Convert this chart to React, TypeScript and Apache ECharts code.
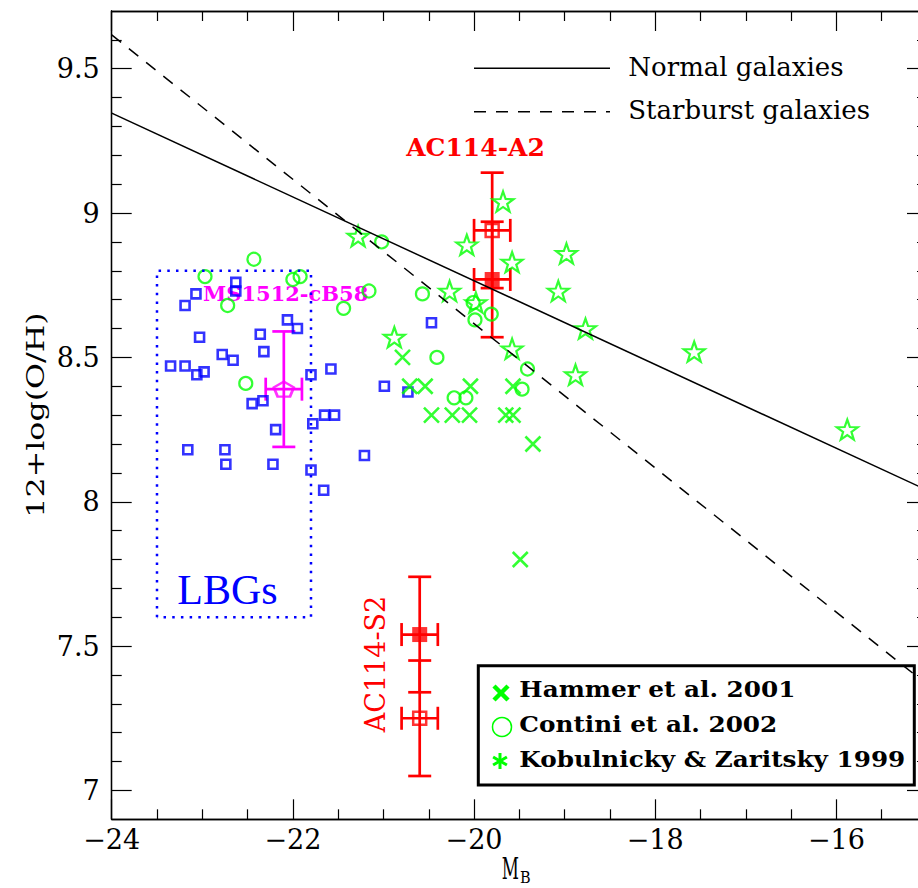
import React, { useEffect, useRef } from 'react';
import * as echarts from 'echarts';

// ---- axis ticks ----
const xMajorTicks = [-24, -22, -20, -18, -16];
const xMinorTicks = [-23.5, -23, -22.5, -21.5, -21, -20.5, -19.5, -19, -18.5, -17.5, -17, -16.5, -15.5];
const yMajorTicks = [7, 7.5, 8, 8.5, 9, 9.5];
const yMinorTicks = [7.1, 7.2, 7.3, 7.4, 7.6, 7.7, 7.8, 7.9, 8.1, 8.2, 8.3, 8.4, 8.6, 8.7, 8.8, 8.9, 9.1, 9.2, 9.3, 9.4, 9.6];

// ---- relations ----
const normalLine = [[-24, 9.346], [-15, 8.04]];
const starburstLine = [[-24, 9.617], [-15, 7.367]];
const lbgBox = [[-23.5, 7.6], [-23.5, 8.8], [-21.8, 8.8], [-21.8, 7.6], [-23.5, 7.6]];

// ---- data ----
const lbgSquares = [
  [-23.07, 8.72], [-23.19, 8.68], [-22.63, 8.76], [-22.63, 8.73], [-23.03, 8.57], [-22.06, 8.63],
  [-21.95, 8.6], [-22.36, 8.58], [-22.32, 8.52], [-22.78, 8.51], [-22.66, 8.49], [-23.35, 8.47],
  [-23.19, 8.47], [-22.98, 8.45], [-23.06, 8.44], [-21.8, 8.44], [-21.58, 8.46], [-20.99, 8.4],
  [-20.73, 8.38], [-20.47, 8.62], [-22.45, 8.34], [-22.33, 8.35], [-21.65, 8.3], [-21.54, 8.3],
  [-21.78, 8.27], [-22.19, 8.25], [-23.16, 8.18], [-22.75, 8.18], [-22.74, 8.13], [-22.22, 8.13],
  [-21.8, 8.11], [-21.21, 8.16], [-21.66, 8.04],
];
const hammerCrosses = [
  [-20.79, 8.5], [-20.71, 8.4], [-20.54, 8.4], [-20.04, 8.4], [-19.57, 8.4], [-20.47, 8.3],
  [-20.24, 8.3], [-20.05, 8.3], [-19.65, 8.3], [-19.57, 8.3], [-19.35, 8.2], [-19.49, 7.8],
];
const continiCircles = [
  [-22.43, 8.84], [-22.97, 8.78], [-22.0, 8.77], [-21.92, 8.78], [-22.72, 8.68], [-21.16, 8.73],
  [-21.44, 8.67], [-22.52, 8.41], [-21.02, 8.9], [-20.57, 8.72], [-20.41, 8.5], [-20.22, 8.36],
  [-20.09, 8.36], [-20.01, 8.69], [-19.99, 8.63], [-19.81, 8.65], [-19.41, 8.46], [-19.47, 8.39],
];
const kzStars = [
  [-21.28, 8.92], [-19.68, 9.04], [-20.08, 8.89], [-19.58, 8.83], [-18.98, 8.86], [-19.07, 8.73],
  [-18.77, 8.6], [-20.27, 8.73], [-19.98, 8.69], [-20.88, 8.57], [-19.58, 8.53], [-18.88, 8.44],
  [-17.57, 8.52], [-15.88, 8.25],
];
const ac114Filled = [[-19.8, 8.77], [-20.6, 7.54]];
const ac114Open = [[-19.8, 8.94], [-20.6, 7.25]];
const ms1512 = [[-22.1, 8.39]];
const errX = 0.2;
const errY = 0.2;

const STAR = 'path://M0,-10L2.351,-3.236L9.511,-3.09L3.804,1.236L5.878,8.09L0,4L-5.878,8.09L-3.804,1.236L-9.511,-3.09L-2.351,-3.236Z';
const CROSS = 'path://M0,0L10,10M10,0L0,10';
const PENTAGON = 'path://M0,-10L9.511,-3.09L5.878,8.09L-5.878,8.09L-9.511,-3.09Z';

const SERIF = '"DejaVu Serif"';

function errRender(color: string) {
  return (params: any, api: any) => {
    const x = api.value(0), y = api.value(1), xe = api.value(2), ye = api.value(3);
    const t = api.coord([x, y + ye]);
    const b = api.coord([x, y - ye]);
    const l = api.coord([x - xe, y]);
    const r = api.coord([x + xe, y]);
    const cap = 11.5;
    const style = { stroke: color, lineWidth: 2.7 };
    const ln = (x1: number, y1: number, x2: number, y2: number) => ({ type: 'line', shape: { x1, y1, x2, y2 }, style });
    return {
      type: 'group',
      children: [
        ln(t[0], t[1], b[0], b[1]),
        ln(t[0] - cap, t[1], t[0] + cap, t[1]),
        ln(b[0] - cap, b[1], b[0] + cap, b[1]),
        ln(l[0], l[1], r[0], r[1]),
        ln(l[0], l[1] - cap, l[0], l[1] + cap),
        ln(r[0], r[1] - cap, r[0], r[1] + cap),
      ],
    };
  };
}

function txt(text: string, x: number, y: number, font: string, fill: string, align = 'left', extra: any = {}) {
  return {
    type: 'text', x, y, ...extra,
    style: { text, font, fill, align, textAlign: align, verticalAlign: 'middle', textVerticalAlign: 'middle' },
  };
}

export default function App() {
  const ref = useRef<HTMLDivElement>(null);
  useEffect(() => {
    if (!ref.current) return;
    const chart = echarts.init(ref.current, null, { renderer: 'svg' });
    const axisLine = { show: true, lineStyle: { color: '#000', width: 1.3 } };
    const mk = (pos: string, ticks: number[], len: number, isX: boolean, labels: boolean) => ({
      type: 'value', position: pos, min: isX ? -24 : 6.9, max: isX ? -15 : 9.7, gridIndex: 0,
      axisLine, splitLine: { show: false },
      axisTick: { show: true, inside: true, length: len, customValues: ticks, lineStyle: { color: '#000', width: 1.2 } },
      axisLabel: labels
        ? {
            show: true, customValues: ticks, color: '#000', fontFamily: SERIF, fontSize: 27,
            margin: isX ? 7 : 12,
            formatter: (v: number) => (v < 0 ? '\u2212' + Math.abs(v) : String(v)),
          }
        : { show: false },
    });
    const greenItem = { color: 'rgba(0,0,0,0)', borderColor: '#00ff00', borderWidth: 2.2 };
    const option: any = {
      animation: false,
      grid: { left: 111.7, top: 11, width: 815.3, height: 808.3, containLabel: false, outerBoundsMode: 'none' },
      xAxis: [
        mk('bottom', xMajorTicks, 20, true, true),
        mk('bottom', xMinorTicks, 10, true, false),
        mk('top', xMajorTicks, 20, true, false),
        mk('top', xMinorTicks, 10, true, false),
      ],
      yAxis: [
        mk('left', yMajorTicks, 20, false, true),
        mk('left', yMinorTicks, 10, false, false),
        mk('right', yMajorTicks, 20, false, false),
        mk('right', yMinorTicks, 10, false, false),
      ],
      series: [
        { name: 'Normal galaxies', type: 'line', data: normalLine, symbol: 'none', lineStyle: { color: '#000', width: 1.5 } },
        { name: 'Starburst galaxies', type: 'line', data: starburstLine, symbol: 'none', lineStyle: { color: '#000', width: 1.5, type: [12, 10] } },
        { name: 'LBG box', type: 'line', data: lbgBox, symbol: 'none', lineStyle: { color: '#0000ff', width: 2.5, type: [2.5, 6.2] } },
        { name: 'LBGs', type: 'scatter', data: lbgSquares, symbol: 'rect', symbolSize: 9, itemStyle: { color: 'rgba(0,0,0,0)', borderColor: '#0000ff', borderWidth: 2.6 } },
        { name: 'Hammer et al. 2001', type: 'scatter', data: hammerCrosses, symbol: CROSS, symbolSize: 15, itemStyle: { ...greenItem, borderWidth: 2.6 } },
        { name: 'Contini et al. 2002', type: 'scatter', data: continiCircles, symbol: 'circle', symbolSize: 13, itemStyle: greenItem },
        { name: 'Kobulnicky & Zaritsky 1999', type: 'scatter', data: kzStars, symbol: STAR, symbolSize: [21, 20], itemStyle: greenItem },
        {
          name: 'AC114 errors', type: 'custom', renderItem: errRender('#ff0000'),
          data: [...ac114Filled, ...ac114Open].map((p) => [p[0], p[1], errX, errY]),
        },
        {
          name: 'MS1512 errors', type: 'custom', renderItem: errRender('#ff00ff'),
          data: ms1512.map((p) => [p[0], p[1], errX, errY]),
        },
        { name: 'AC114 filled', type: 'scatter', data: ac114Filled, symbol: 'rect', symbolSize: 15, itemStyle: { color: '#ff0000' } },
        { name: 'AC114 open', type: 'scatter', data: ac114Open, symbol: 'rect', symbolSize: 13, itemStyle: { color: 'rgba(0,0,0,0)', borderColor: '#ff0000', borderWidth: 2.5 } },
        { name: 'MS1512-cB58', type: 'scatter', data: ms1512, symbol: PENTAGON, symbolSize: [20, 15], itemStyle: { color: 'rgba(0,0,0,0)', borderColor: '#ff00ff', borderWidth: 2.5 } },
      ],
      graphic: [
        // axis titles
        txt('12+log(O/H)', 36, 415, `24px ${SERIF}`, '#000', 'center', { rotation: Math.PI / 2, scaleX: 1.32 }),
        txt('M', 501.7, 868.3, `30px ${SERIF}`, '#000', 'left', { scaleX: 0.56 }),
        txt('B', 520, 877.5, `17px ${SERIF}`, '#000', 'left', { scaleX: 0.85 }),
        // line legend
        { type: 'line', shape: { x1: 474, y1: 68.3, x2: 610, y2: 68.3 }, style: { stroke: '#000', lineWidth: 1.5 } },
        { type: 'line', shape: { x1: 474, y1: 111.7, x2: 610, y2: 111.7 }, style: { stroke: '#000', lineWidth: 1.5, lineDash: [12, 10] } },
        txt('Normal galaxies', 628.3, 67.2, `26px ${SERIF}`, '#000'),
        txt('Starburst galaxies', 628.3, 110.3, `26px ${SERIF}`, '#000'),
        // annotations
        txt('AC114-A2', 475.5, 147, `bold 25px ${SERIF}`, '#ff0000', 'center'),
        txt('AC114-S2', 375, 664, `27px ${SERIF}`, '#ff0000', 'center', { rotation: Math.PI / 2 }),
        txt('MS1512-cB58', 203, 293, `bold 21px ${SERIF}`, '#ff00ff'),
        txt('LBGs', 177.3, 590, '42px "Liberation Serif"', '#0000ff'),
        // data legend box
        { type: 'rect', shape: { x: 478.3, y: 665.7, width: 436, height: 119.3 }, style: { fill: 'none', stroke: '#000', lineWidth: 3 } },
        { type: 'line', shape: { x1: 494, y1: 686, x2: 508, y2: 700 }, style: { stroke: '#00ff00', lineWidth: 4.5 } },
        { type: 'line', shape: { x1: 494, y1: 700, x2: 508, y2: 686 }, style: { stroke: '#00ff00', lineWidth: 4.5 } },
        { type: 'circle', shape: { cx: 502, cy: 727, r: 9.5 }, style: { fill: 'none', stroke: '#00ff00', lineWidth: 1.5 } },
        { type: 'line', shape: { x1: 500, y1: 753, x2: 500, y2: 769 }, style: { stroke: '#00ff00', lineWidth: 3 } },
        { type: 'line', shape: { x1: 493.1, y1: 757, x2: 506.9, y2: 765 }, style: { stroke: '#00ff00', lineWidth: 3 } },
        { type: 'line', shape: { x1: 493.1, y1: 765, x2: 506.9, y2: 757 }, style: { stroke: '#00ff00', lineWidth: 3 } },
        txt('Hammer et al. 2001', 519.3, 689, `bold 23px ${SERIF}`, '#000', 'left', { scaleX: 1.075 }),
        txt('Contini et al. 2002', 519.3, 723.8, `bold 23px ${SERIF}`, '#000', 'left', { scaleX: 1.075 }),
        txt('Kobulnicky & Zaritsky 1999', 519.3, 759, `bold 23px ${SERIF}`, '#000', 'left', { scaleX: 1.075 }),
      ],
    };
    chart.setOption(option);
    return () => chart.dispose();
  }, []);
  return (
    <div style={{ position: 'fixed', left: 0, top: 0, width: 918, height: 888, overflow: 'hidden', background: '#fff' }}>
      <div ref={ref} style={{ width: 930, height: 888 }} />
    </div>
  );
}
